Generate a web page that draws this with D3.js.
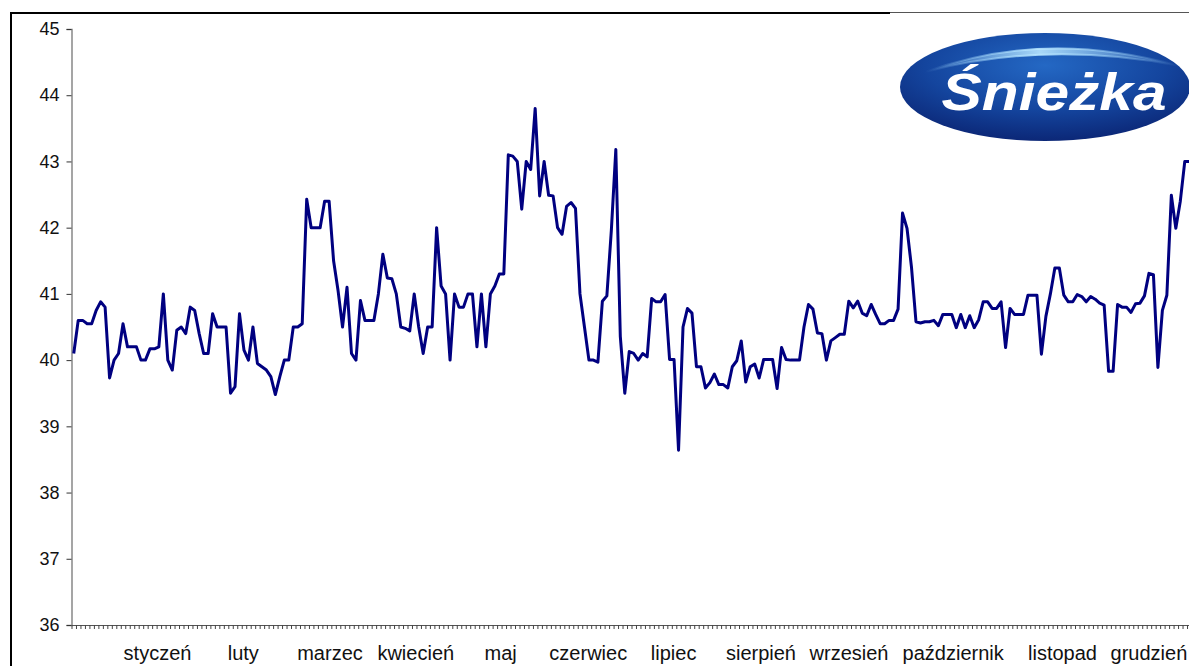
<!DOCTYPE html>
<html>
<head>
<meta charset="utf-8">
<script src="https://cdn.jsdelivr.net/npm/d3@7"></script>
<style>
    body { margin: 0; background: #fff; }
    text { font-family: Arial, 'Liberation Sans', sans-serif; }
</style>
</head>
<body>
<script>
// daily prices, one per category on the x axis
const prices = [
    40.1, 40.6, 40.6, 40.55, 40.55, 40.75, 40.88, 40.8, 39.73, 40.0,
    40.1, 40.55, 40.2, 40.2, 40.2, 40.0, 40.0, 40.17, 40.17, 40.2,
    41.0, 40.0, 39.85, 40.45, 40.5, 40.4, 40.8, 40.75, 40.4, 40.1,
    40.1, 40.7, 40.5, 40.5, 40.5, 39.5, 39.6, 40.7, 40.15, 40.0,
    40.5, 39.95, 39.9, 39.85, 39.75, 39.48, 39.75, 40.0, 40.0, 40.5,
    40.5, 40.55, 42.43, 42.0, 42.0, 42.0, 42.4, 42.4, 41.5, 41.05,
    40.5, 41.1, 40.1, 40.0, 40.9, 40.6, 40.6, 40.6, 41.0, 41.6,
    41.24, 41.23, 41.0, 40.5, 40.48, 40.44, 41.0, 40.5, 40.1, 40.5,
    40.5, 42.0, 41.12, 41.0, 40.0, 41.0, 40.8, 40.8, 41.0, 41.0,
    40.2, 41.0, 40.2, 41.0, 41.12, 41.3, 41.3, 43.1, 43.08, 43.0,
    42.28, 43.0, 42.88, 43.8, 42.48, 43.0, 42.49, 42.48, 42.0, 41.9,
    42.32, 42.38, 42.29, 41.0, 40.5, 40.0, 40.0, 39.97, 40.89, 40.97,
    41.96, 43.18, 40.36, 39.5, 40.13, 40.1, 40.0, 40.1, 40.05, 40.93,
    40.88, 40.88, 40.99, 40.01, 40.01, 38.64, 40.5, 40.78, 40.71, 39.9,
    39.9, 39.58, 39.66, 39.79, 39.63, 39.63, 39.58, 39.9, 39.99, 40.29,
    39.67, 39.9, 39.94, 39.73, 40.01, 40.01, 40.01, 39.57, 40.19, 40.01,
    40.0, 40.0, 40.0, 40.5, 40.84, 40.77, 40.41, 40.4, 40.0, 40.29,
    40.34, 40.39, 40.39, 40.89, 40.79, 40.89, 40.71, 40.67, 40.84, 40.69,
    40.55, 40.55, 40.6, 40.6, 40.77, 42.22, 41.99, 41.4, 40.58, 40.56,
    40.58, 40.58, 40.6, 40.52, 40.69, 40.69, 40.69, 40.49, 40.69, 40.49,
    40.67, 40.49, 40.61, 40.88, 40.88, 40.78, 40.78, 40.88, 40.19, 40.78,
    40.69, 40.69, 40.69, 40.98, 40.98, 40.98, 40.09, 40.66, 41.0, 41.39,
    41.39, 40.98, 40.88, 40.88, 40.99, 40.96, 40.88, 40.96, 40.92, 40.86,
    40.83, 39.83, 39.83, 40.84, 40.8, 40.8, 40.72, 40.85, 40.86, 40.97,
    41.31, 41.29, 39.89, 40.75, 40.98, 42.49, 41.99, 42.4, 43.0, 43.0
]

const months = ['styczeń', 'luty', 'marzec', 'kwiecień', 'maj', 'czerwiec',
    'lipiec', 'sierpień', 'wrzesień', 'październik', 'listopad', 'grudzień']
// where each month label sits, in category units along the axis
const monthPos = [19.2, 38.35, 57.7, 76.85, 95.8, 115.35, 134.4, 153.9, 173.55, 196.8, 221.2, 240.5]

const yTicks = [36, 37, 38, 39, 40, 41, 42, 43, 44, 45]

const w = 1189
const h = 666
const step = 4.48
const padLeft = 71.5
const padTop = 29
const axisY = 625

const svg = d3.select('body')
    .append('svg')
    .attr('width', w)
    .attr('height', h)

const xScale = d3.scaleLinear()
    .domain([0, prices.length])
    .range([padLeft, padLeft + prices.length * step])

const yScale = d3.scaleLinear()
    .domain([36, 45])
    .range([axisY, padTop])

// frame round the chart
svg.append('line')
    .attr('x1', 11).attr('x2', 11).attr('y1', 12).attr('y2', h)
    .attr('stroke', '#000').attr('stroke-width', 2)
svg.append('line')
    .attr('x1', 10).attr('x2', 890).attr('y1', 13).attr('y2', 13)
    .attr('stroke', '#000').attr('stroke-width', 2)

const yAxis = d3.axisLeft(yScale)
    .tickValues(yTicks)
    .tickSize(5)
    .tickPadding(7)
    .tickFormat(d3.format('d'))

const yG = svg.append('g')
    .attr('transform', 'translate(' + padLeft + ',0)')
    .call(yAxis)
yG.select('.domain').attr('stroke', '#888').attr('stroke-width', 1.5)
yG.selectAll('line').attr('stroke', '#333')
yG.selectAll('text').attr('font-size', 18).attr('fill', '#111')

const xAxis = d3.axisBottom(xScale)
    .tickValues(d3.range(prices.length + 1))
    .tickSize(4)
    .tickSizeOuter(0)
    .tickFormat('')

const xG = svg.append('g')
    .attr('transform', 'translate(0,' + axisY + ')')
    .call(xAxis)
xG.select('.domain').attr('stroke', '#555').attr('stroke-width', 1.2)
xG.selectAll('line').attr('stroke', '#444')

svg.append('g')
    .selectAll('text')
    .data(months)
    .enter()
    .append('text')
    .attr('x', (d, i) => xScale(monthPos[i]))
    .attr('y', 660)
    .attr('text-anchor', 'middle')
    .attr('font-size', 20)
    .attr('fill', '#111')
    .text(d => d)

const line = d3.line()
    .x((d, i) => xScale(i + 0.5))
    .y(d => yScale(d))

svg.append('path')
    .datum(prices)
    .attr('d', line)
    .attr('fill', 'none')
    .attr('stroke', '#000080')
    .attr('stroke-width', 3)
    .attr('stroke-linejoin', 'round')

// logo
const defs = svg.append('defs')
const grad = defs.append('radialGradient')
    .attr('id', 'logoBlue')
    .attr('cx', 0.5).attr('cy', 0.3).attr('r', 0.75)
grad.append('stop').attr('offset', '0%').attr('stop-color', '#2468c4')
grad.append('stop').attr('offset', '55%').attr('stop-color', '#14459e')
grad.append('stop').attr('offset', '100%').attr('stop-color', '#0a2270')

const shine = defs.append('linearGradient')
    .attr('id', 'shine')
    .attr('x1', 0).attr('y1', 0).attr('x2', 1).attr('y2', 0)
shine.append('stop').attr('offset', '0%').attr('stop-color', '#9fd8ff').attr('stop-opacity', 0)
shine.append('stop').attr('offset', '45%').attr('stop-color', '#b8e6ff').attr('stop-opacity', 0.9)
shine.append('stop').attr('offset', '100%').attr('stop-color', '#9fd8ff').attr('stop-opacity', 0)

svg.append('rect')
    .attr('x', 890).attr('y', 13).attr('width', w - 890).attr('height', 140)
    .attr('fill', '#fff')
svg.append('line')
    .attr('x1', 890).attr('x2', w).attr('y1', 12.5).attr('y2', 12.5)
    .attr('stroke', '#555').attr('stroke-width', 1)

svg.append('ellipse')
    .attr('cx', 1045).attr('cy', 87)
    .attr('rx', 145).attr('ry', 54)
    .attr('fill', 'url(#logoBlue)')

svg.append('path')
    .attr('d', 'M925,72 Q1045,28 1180,66 Q1045,40 925,72 Z')
    .attr('fill', 'url(#shine)')
    .attr('stroke', 'url(#shine)')
    .attr('stroke-width', 2)

svg.append('text')
    .attr('x', 1054)
    .attr('y', 110)
    .attr('text-anchor', 'middle')
    .attr('font-size', 52)
    .attr('font-weight', 'bold')
    .attr('font-style', 'italic')
    .attr('fill', '#fff')
    .attr('textLength', 225)
    .attr('lengthAdjust', 'spacingAndGlyphs')
    .text('Śnieżka')
</script>
</body>
</html>
